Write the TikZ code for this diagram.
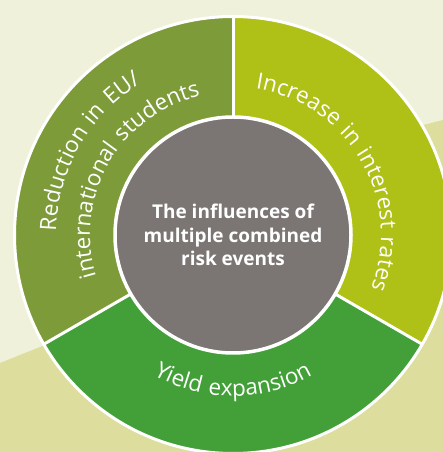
\documentclass[tikz,border=0pt]{standalone}
\usepackage{fontspec}
\setmainfont{Open Sans}
\newfontfamily\ringface[LetterSpace=8]{Open Sans}
\usetikzlibrary{decorations.text}
\definecolor{paleback}{RGB}{239,241,218}
\definecolor{darkback}{RGB}{221,222,158}
\definecolor{olivering}{RGB}{126,155,58}
\definecolor{limering}{RGB}{175,192,22}
\definecolor{grassring}{RGB}{67,160,57}
\definecolor{coregrey}{RGB}{123,118,115}
\newcommand\ringfont{\ringface\fontsize{22.5}{26}\selectfont}
\tikzset{
  divider/.style={draw=white, line width=3pt},
  rim/.style={draw=white, line width=3pt},
  ringtext/.style={decorate, decoration={text along path, text align=center, text color=white}},
  corelabel/.style={circle, fill=coregrey, draw=white, line width=3.5pt, minimum size=236pt, inner sep=0pt, align=center, text=white, font=\fontsize{19}{23.5}\selectfont\bfseries}
}
\begin{document}
\begin{tikzpicture}[x=1pt, y=1pt]
\useasboundingbox (0,0) rectangle (443,452);
% background
\fill[paleback] (0,0) rectangle (443,452);
\fill[darkback] (0,0) -- (0,89) -- (60,113) -- (400,321) -- (443,332) -- (443,0) -- cycle;
\coordinate (hub) at (233,217);
% ring sectors
\fill[olivering] (hub) -- ++(90:218.5) arc[start angle=90, end angle=210, radius=218.5] -- cycle;
\fill[grassring] (hub) -- ++(210:218.5) arc[start angle=210, end angle=330, radius=218.5] -- cycle;
\fill[limering] (hub) -- ++(-30:218.5) arc[start angle=-30, end angle=90, radius=218.5] -- cycle;
\draw[rim] (hub) circle[radius=218.5];
\foreach \a in {90,210,330}
  \draw[divider] (hub) -- ++(\a:218.5);
\node[corelabel] (core) at (hub) {The influences of\\multiple combined\\risk events};
% curved labels
\path[ringtext, decoration={text={|\ringfont|Reduction in EU/}}] (hub) ++(210:177) arc[start angle=210, end angle=90, radius=177];
\path[ringtext, decoration={text={|\ringfont|international students}}] (hub) ++(210:143) arc[start angle=210, end angle=90, radius=143];
\path[ringtext, decoration={text={|\ringfont|Increase in interest rates}}] (hub) ++(90:148) arc[start angle=90, end angle=-30, radius=148];
\path[ringtext, decoration={text={|\ringfont|Yield expansion}}] (hub) ++(210:161) arc[start angle=210, end angle=330, radius=161];
\end{tikzpicture}
\end{document}
